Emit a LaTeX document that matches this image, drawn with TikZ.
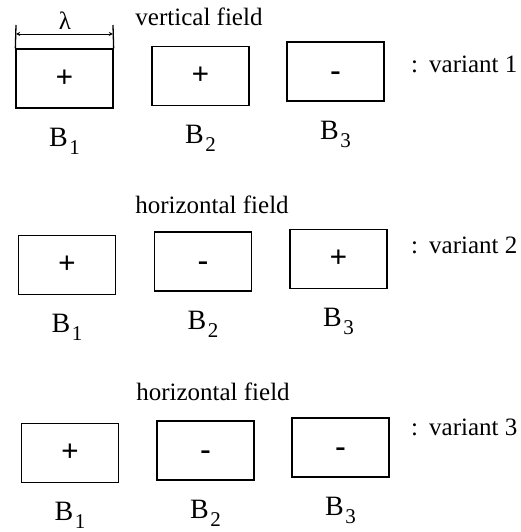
\documentclass[tikz,border=0pt]{standalone}
\usepackage{fontspec}
\setmainfont{Liberation Serif}
\usetikzlibrary{positioning,arrows.meta}

\newcommand{\bname}[1]{B\kern1.5pt\raisebox{-8pt}{\fontsize{21}{21}\selectfont #1}}
\newcommand{\negsign}{\raisebox{-9pt}[0pt][0pt]{-}}

\begin{document}
\begin{tikzpicture}[
    x=1pt, y=-1pt,
    every node/.style={font=\fontsize{25}{30}\selectfont},
    box/.style={rectangle, draw, line width=1.3pt, minimum width=97pt, minimum height=59pt, inner sep=0pt, font=\fontsize{31}{31}\selectfont\bfseries},
    bname/.style={font=\fontsize{28}{30}\selectfont, inner sep=0pt},
    title/.style={inner sep=0pt},
    variant/.style={anchor=west, inner sep=0pt},
    arrow/.style={<->, >=stealth, line width=0.9pt}
]
\useasboundingbox (0,0) rectangle (521,532);

% Top row: vertical field
\node[title] (vtitle) at (199,17) {vertical field};
\node[box] (b11) at (64.5,78.5) {+};
\node[box] (b12) at (200.5,76) {+};
\node[box] (b13) at (335.5,71.5) {\negsign};
\node[bname, below=19pt of b11] (n11) {\bname{1}};
\node[bname, below=19pt of b12] (n12) {\bname{2}};
\node[bname, below=19pt of b13] (n13) {\bname{3}};
\node[variant] (v1) at (411,64) {:\hspace{11pt}variant 1};

% wavelength marker
\node[title] (lam) at (65,21) {λ};
\coordinate (ltop) at (16,25);
\coordinate (rtop) at (113,25);
\coordinate (la) at (16,34);
\coordinate (ra) at (113,34);
\draw[line width=1.3pt] (b11.north west) -- (ltop);
\draw[line width=1.3pt] (b11.north east) -- (rtop);
\draw[arrow] (la) -- (ra);

% Middle row: horizontal field
\node[title] (htitle1) at (212,205) {horizontal field};
\node[box] (b21) at (67,265) {+};
\node[box] (b22) at (203,261.5) {\negsign};
\node[box] (b23) at (338.5,259) {+};
\node[bname, below=19pt of b21] (n21) {\bname{1}};
\node[bname, below=19pt of b22] (n22) {\bname{2}};
\node[bname, below=19pt of b23] (n23) {\bname{3}};
\node[variant] (v2) at (411,245) {:\hspace{11pt}variant 2};

% Bottom row: horizontal field
\node[title] (htitle2) at (213,392) {horizontal field};
\node[box] (b31) at (70,453) {+};
\node[box] (b32) at (205.5,450.5) {\negsign};
\node[box] (b33) at (340.5,447.5) {\negsign};
\node[bname, below=19pt of b31] (n31) {\bname{1}};
\node[bname, below=19pt of b32] (n32) {\bname{2}};
\node[bname, below=19pt of b33] (n33) {\bname{3}};
\node[variant] (v3) at (411,427) {:\hspace{11pt}variant 3};

\end{tikzpicture}
\end{document}
